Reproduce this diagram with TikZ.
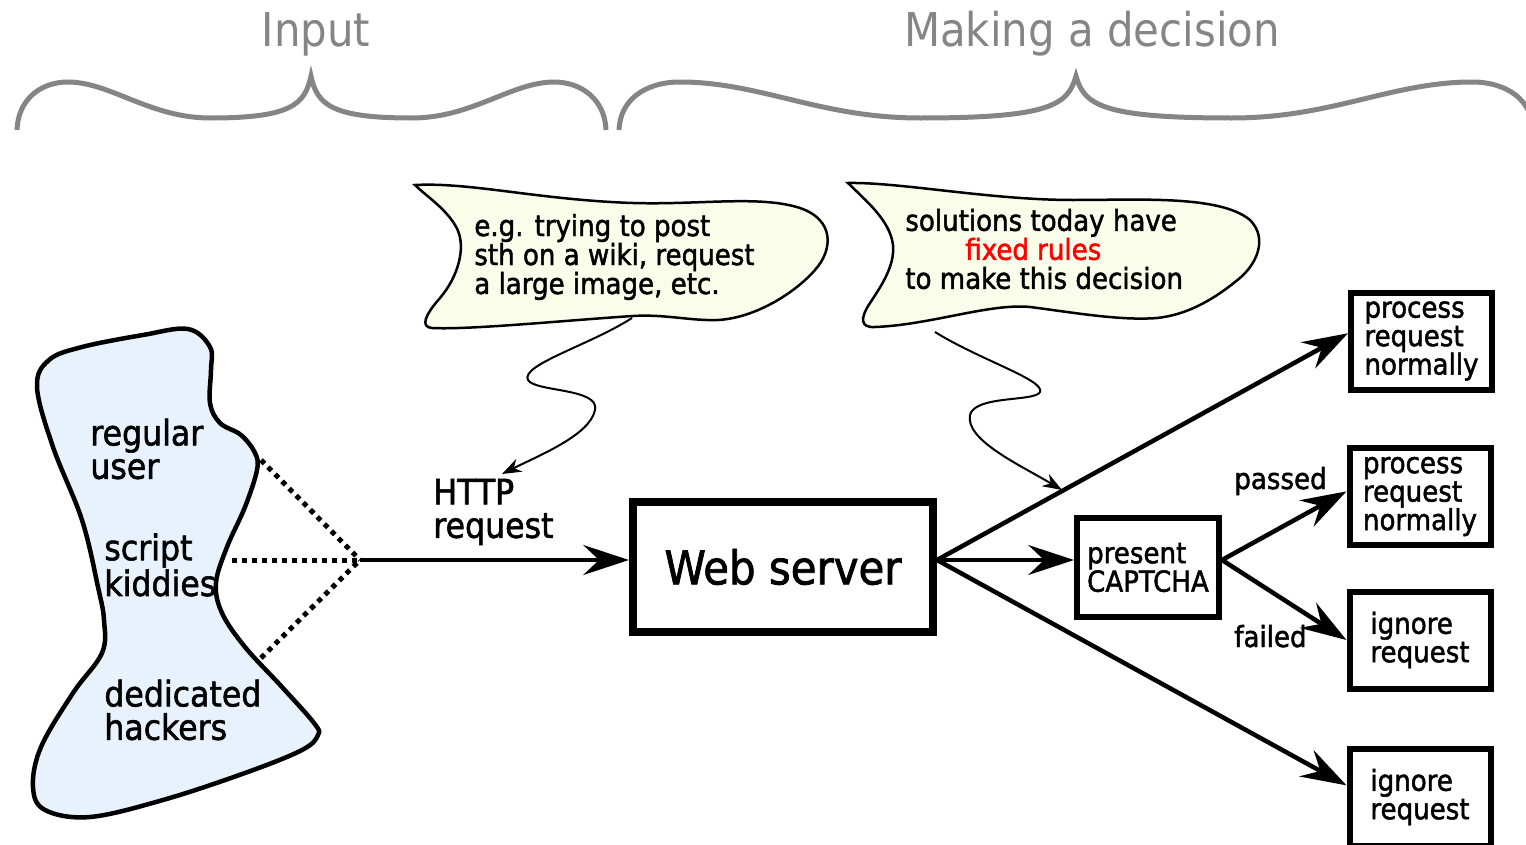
\documentclass[tikz,border=0pt]{standalone}
\usepackage{fontspec}
\setmainfont[FakeBold=1.6]{DejaVu Sans Condensed}
\newfontfamily\titlefamily{DejaVu Sans Condensed}
\usetikzlibrary{arrows.meta,calc}
\definecolor{crowdcolor}{HTML}{E8F2FD}
\definecolor{notecolor}{HTML}{FBFDEB}
\definecolor{bracecolor}{HTML}{858585}
\newcommand{\px}{0.02cm}
\newcommand{\boxfont}{\fontsize{16.5}{16.2}\selectfont}
\newcommand{\notefont}{\fontsize{16.5}{16.5}\selectfont}
\newcommand{\bigfont}{\fontsize{20}{19}\selectfont}
\newcommand{\titlefont}{\titlefamily\fontsize{26.5}{26.5}\selectfont}
\tikzset{
  boxnode/.style={draw, line width=6*\px, minimum width=141*\px, minimum height=97*\px, align=left, font=\boxfont, inner sep=0},
  txtnode/.style={align=left, inner sep=0},
  flow/.style={line width=4.5*\px, -{Stealth[length=26pt,width=17pt,inset=9pt]}},
  squiggle/.style={line width=2*\px, -{Stealth[length=11pt,width=8pt,inset=3.5pt]}},
  crowdlink/.style={line width=5*\px, dash pattern=on 0.1cm off 0.1cm},
  brace/.style={draw=bracecolor, line width=5*\px},
  note/.style={draw, fill=notecolor, line width=2.5*\px}
}

\begin{document}
\begin{tikzpicture}[x=0.02cm, y=-0.02cm]
\useasboundingbox (0,0) rectangle (1526,845);
\clip (0,0) rectangle (1526,845);
%titles and braces
\node[text=bracecolor, font=\titlefont] (input) at (316,34) {Input};
\node[text=bracecolor, font=\titlefont] (decide) at (1092,34) {Making a decision};
\draw[brace] (17,130) .. controls (18,100) and (40,82) .. (68,82) .. controls (110,82) and (150,118) .. (210,118) .. controls (290,118) and (305,105) .. (311,76) .. controls (317,105) and (332,118) .. (412,118) .. controls (472,118) and (512,82) .. (554,82) .. controls (582,82) and (605,100) .. (606,130);
\draw[brace] (619,130) .. controls (620,100) and (645,82) .. (680,82) .. controls (760,82) and (820,118) .. (920,118) .. controls (1050,118) and (1068,105) .. (1076,76) .. controls (1084,105) and (1102,118) .. (1232,118) .. controls (1332,118) and (1392,82) .. (1472,82) .. controls (1507,82) and (1532,100) .. (1533,130);
%crowd
\draw[fill=crowdcolor, line width=4.5*\px] plot[smooth cycle, tension=0.6] coordinates {(188,329) (210,347) (211,370) (210,403) (220,423) (241,435) (255,453) (257,470) (245,507) (227,547) (216,583) (222,613) (245,647) (282,687) (314,723) (318,735) (302,750) (245,773) (163,800) (90,817) (45,810) (33,787) (41,747) (73,693) (102,653) (104,620) (98,587) (82,520) (53,447) (37,387) (49,360) (82,347) (143,335)};
\node[txtnode, anchor=west, font=\bigfont] (regular) at (90,449) {regular\\user};
\node[txtnode, anchor=west, font=\bigfont] (script) at (104,565) {script\\kiddies};
\node[txtnode, anchor=west, font=\bigfont] (hackers) at (104,710) {dedicated\\hackers};
\coordinate (ru) at (261,460);
\coordinate (sk) at (232,560);
\coordinate (dh) at (261,658);
\coordinate (hub) at (360,560);
\draw[crowdlink] (ru) -- (hub);
\draw[crowdlink] (sk) -- (hub);
\draw[crowdlink] (dh) -- (hub);
%notes
\draw[note] (415,185) .. controls (470,182) and (540,200) .. (633,203) .. controls (700,205) and (760,195) .. (800,208) .. controls (835,220) and (833,250) .. (815,270) .. controls (795,293) and (755,318) .. (718,320) .. controls (690,321) and (665,314) .. (633,316) .. controls (570,320) and (470,330) .. (432,328) .. controls (420,327) and (425,315) .. (440,298) .. controls (458,277) and (468,245) .. (455,225) .. controls (445,208) and (425,195) .. (415,185) -- cycle;
\draw[note] (848,183) .. controls (900,182) and (990,200) .. (1073,200) .. controls (1140,200) and (1220,195) .. (1250,220) .. controls (1268,238) and (1258,265) .. (1235,282) .. controls (1210,302) and (1185,315) .. (1157,318) .. controls (1120,321) and (1070,312) .. (1030,307) .. controls (990,303) and (930,325) .. (875,327) .. controls (860,328) and (860,318) .. (870,303) .. controls (882,285) and (895,265) .. (893,245) .. controls (890,220) and (865,200) .. (848,183) -- cycle;
\node[txtnode, anchor=west, font=\notefont] (example) at (474,257) {e.g. trying to post\\sth on a wiki, request\\a large image, etc.};
\node[txtnode, anchor=west, font=\notefont] (rules) at (905,249) {solutions today have\\\hspace*{1.2cm}\textcolor{red}{fixed rules}\\to make this decision};
%request and server
\node[txtnode, anchor=west, font=\bigfont] (http) at (433,512) {HTTP\\request};
\node[draw, line width=8*\px, minimum width=300*\px, minimum height=130*\px, inner sep=0, font=\fontsize{26.5}{26.5}\selectfont] (ws) at (783,567) {Web server};
\node[boxnode, minimum width=142*\px, minimum height=99*\px] (captcha) at (1148,567.5) {present\\CAPTCHA};
\node[boxnode] (p1) at (1421.5,341) {process\\request\\normally};
\node[boxnode] (p2) at (1420,496.5) {process\\request\\normally};
\node[boxnode] (ig1) at (1420,640) {ignore\\request};
\node[boxnode] (ig2) at (1420,797) {ignore\\request};
\node[anchor=base west, inner sep=0, font=\boxfont] (passed) at (1234,489) {passed};
\node[anchor=base west, inner sep=0, font=\boxfont] (failed) at (1234,647) {failed};
%arrows
\draw[flow] (hub) -- (ws.west |- hub);
\draw[flow] (ws.east |- hub) -- (p1.174);
\draw[flow] (ws.east |- hub) -- (captcha.west |- hub);
\draw[flow] (ws.east |- hub) -- (ig2.171);
\draw[flow] (captcha.east |- hub) -- (p2.176);
\draw[flow] (captcha.east |- hub) -- (ig1.west);
\coordinate (b1tail) at (632,318);
\coordinate (httptip) at (502,474);
\coordinate (b2tail) at (935,332);
\coordinate (ruletip) at (1062,490);
\draw[squiggle] (b1tail) .. controls (590,345) and (520,365) .. (528,380) .. controls (535,392) and (600,388) .. (595,410) .. controls (590,435) and (540,455) .. (httptip);
\draw[squiggle] (b2tail) .. controls (980,360) and (1045,380) .. (1040,392) .. controls (1035,402) and (975,395) .. (970,415) .. controls (965,440) and (1020,465) .. (ruletip);
\end{tikzpicture}
\end{document}
